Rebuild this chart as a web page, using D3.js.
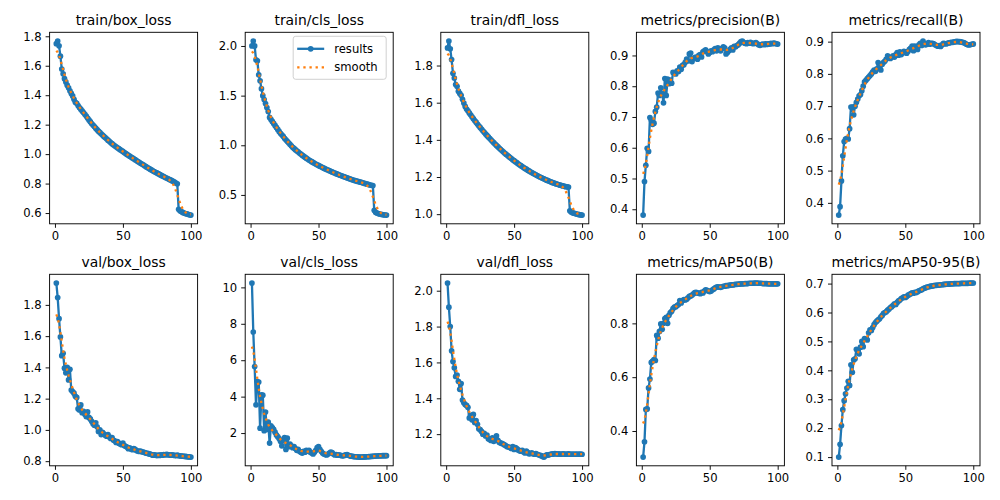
<!DOCTYPE html>
<html>
<head>
<meta charset="utf-8">
<script src="https://cdn.jsdelivr.net/npm/d3@7"></script>
<style>
  body { margin: 0; background: #fff; }
  svg text { font-family: "DejaVu Sans", sans-serif; fill: #000; }
</style>
</head>
<body>
<div id="chart"></div>
<script>
const titles = ['train/box_loss', 'train/cls_loss', 'train/dfl_loss', 'metrics/precision(B)', 'metrics/recall(B)',
  'val/box_loss', 'val/cls_loss', 'val/dfl_loss', 'metrics/mAP50(B)', 'metrics/mAP50-95(B)'];

const epochs = d3.range(1, 101);

const trainBoxLoss = [
  1.750, 1.768, 1.735, 1.665, 1.578, 1.545, 1.512, 1.490, 1.468, 1.450,
  1.430, 1.412, 1.395, 1.372, 1.352, 1.345, 1.330, 1.316, 1.305, 1.293,
  1.282, 1.270, 1.258, 1.245, 1.232, 1.220, 1.208, 1.197, 1.187, 1.176,
  1.166, 1.156, 1.147, 1.138, 1.129, 1.120, 1.112, 1.104, 1.095, 1.087,
  1.079, 1.071, 1.063, 1.056, 1.050, 1.043, 1.037, 1.030, 1.024, 1.018,
  1.011, 1.005, 0.998, 0.992, 0.986, 0.980, 0.974, 0.968, 0.962, 0.956,
  0.950, 0.944, 0.938, 0.933, 0.927, 0.921, 0.915, 0.909, 0.904, 0.898,
  0.893, 0.887, 0.882, 0.877, 0.872, 0.867, 0.862, 0.857, 0.852, 0.848,
  0.843, 0.838, 0.834, 0.829, 0.825, 0.820, 0.815, 0.810, 0.804, 0.798,
  0.625, 0.615, 0.610, 0.604, 0.600, 0.597, 0.594, 0.591, 0.588, 0.586
];

const trainClsLoss = [
  2.000, 2.050, 2.000, 1.860, 1.850, 1.710, 1.650, 1.570, 1.500, 1.460,
  1.420, 1.380, 1.340, 1.280, 1.260, 1.240, 1.220, 1.200, 1.180, 1.160,
  1.140, 1.120, 1.105, 1.090, 1.070, 1.055, 1.040, 1.025, 1.010, 0.995,
  0.980, 0.968, 0.956, 0.945, 0.934, 0.922, 0.911, 0.900, 0.890, 0.880,
  0.870, 0.861, 0.852, 0.843, 0.835, 0.827, 0.819, 0.811, 0.804, 0.797,
  0.790, 0.783, 0.776, 0.769, 0.762, 0.756, 0.750, 0.744, 0.738, 0.732,
  0.726, 0.720, 0.714, 0.709, 0.703, 0.698, 0.692, 0.687, 0.682, 0.677,
  0.672, 0.667, 0.662, 0.657, 0.653, 0.648, 0.644, 0.640, 0.636, 0.632,
  0.628, 0.624, 0.620, 0.616, 0.612, 0.608, 0.604, 0.600, 0.597, 0.594,
  0.345, 0.325, 0.318, 0.312, 0.308, 0.305, 0.302, 0.300, 0.298, 0.297
];

const trainDflLoss = [
  1.895, 1.932, 1.890, 1.832, 1.758, 1.733, 1.698, 1.688, 1.662, 1.650,
  1.640, 1.618, 1.598, 1.580, 1.566, 1.556, 1.545, 1.535, 1.524, 1.514,
  1.504, 1.495, 1.485, 1.476, 1.467, 1.458, 1.449, 1.441, 1.432, 1.424,
  1.416, 1.408, 1.400, 1.392, 1.385, 1.377, 1.370, 1.363, 1.356, 1.349,
  1.342, 1.336, 1.329, 1.323, 1.317, 1.311, 1.305, 1.299, 1.293, 1.288,
  1.282, 1.277, 1.271, 1.266, 1.261, 1.256, 1.251, 1.246, 1.242, 1.237,
  1.233, 1.228, 1.224, 1.220, 1.216, 1.212, 1.208, 1.204, 1.200, 1.197,
  1.193, 1.190, 1.186, 1.183, 1.180, 1.177, 1.174, 1.171, 1.168, 1.166,
  1.163, 1.161, 1.158, 1.156, 1.154, 1.152, 1.150, 1.148, 1.147, 1.146,
  1.018, 1.012, 1.008, 1.005, 1.003, 1.001, 0.999, 0.997, 0.996, 0.995
];

const precision = [
  0.381, 0.490, 0.543, 0.598, 0.588, 0.698, 0.690, 0.676, 0.680, 0.718,
  0.732, 0.778, 0.770, 0.795, 0.775, 0.746, 0.825, 0.770, 0.823, 0.808,
  0.820, 0.810, 0.845, 0.843, 0.840, 0.850, 0.848, 0.862, 0.855, 0.868,
  0.870, 0.878, 0.888, 0.882, 0.905, 0.908, 0.880, 0.890, 0.893, 0.895,
  0.888, 0.900, 0.903, 0.895, 0.912, 0.915, 0.918, 0.912, 0.905, 0.910,
  0.915, 0.912, 0.918, 0.922, 0.915, 0.925, 0.920, 0.915, 0.922, 0.928,
  0.925, 0.905, 0.910, 0.915, 0.920, 0.925, 0.918, 0.930, 0.928, 0.932,
  0.935, 0.940, 0.945, 0.947, 0.942, 0.940, 0.938, 0.942, 0.940, 0.943,
  0.940, 0.938, 0.940, 0.942, 0.938, 0.935, 0.933, 0.935, 0.937, 0.935,
  0.938, 0.936, 0.938, 0.937, 0.939, 0.938, 0.940, 0.939, 0.938, 0.937
];

const recall = [
  0.362, 0.388, 0.468, 0.546, 0.590, 0.598, 0.600, 0.598, 0.630, 0.697,
  0.697, 0.673, 0.700, 0.712, 0.722, 0.732, 0.736, 0.748, 0.762, 0.775,
  0.780, 0.785, 0.790, 0.795, 0.800, 0.806, 0.812, 0.808, 0.816, 0.835,
  0.822, 0.812, 0.830, 0.836, 0.840, 0.846, 0.856, 0.850, 0.848, 0.852,
  0.856, 0.852, 0.860, 0.866, 0.858, 0.868, 0.860, 0.865, 0.870, 0.868,
  0.864, 0.870, 0.876, 0.880, 0.886, 0.872, 0.886, 0.880, 0.876, 0.890,
  0.895, 0.888, 0.902, 0.895, 0.890, 0.893, 0.897, 0.892, 0.895, 0.895,
  0.893, 0.890, 0.888, 0.886, 0.888, 0.885, 0.890, 0.895, 0.894, 0.893,
  0.895, 0.896, 0.897, 0.898, 0.898, 0.899, 0.900, 0.901, 0.900, 0.900,
  0.899, 0.898, 0.897, 0.895, 0.892, 0.890, 0.890, 0.891, 0.892, 0.893
];

const valBoxLoss = [
  1.940, 1.847, 1.712, 1.595, 1.475, 1.490, 1.395, 1.365, 1.400, 1.320,
  1.388, 1.255, 1.245, 1.235, 1.215, 1.208, 1.135, 1.128, 1.160, 1.110,
  1.118, 1.100, 1.085, 1.115, 1.080, 1.070, 1.055, 1.040, 1.030, 1.045,
  1.020, 0.990, 1.000, 0.970, 0.985, 0.975, 0.965, 0.960, 0.970, 0.955,
  0.945, 0.950, 0.935, 0.930, 0.920, 0.925, 0.915, 0.910, 0.905, 0.915,
  0.900, 0.895, 0.890, 0.880, 0.885, 0.878, 0.873, 0.880, 0.875, 0.868,
  0.865, 0.862, 0.865, 0.860, 0.858, 0.855, 0.852, 0.850, 0.848, 0.845,
  0.842, 0.838, 0.840, 0.838, 0.836, 0.838, 0.837, 0.840, 0.838, 0.842,
  0.840, 0.843, 0.842, 0.840, 0.838, 0.840, 0.838, 0.837, 0.836, 0.838,
  0.835, 0.834, 0.833, 0.832, 0.831, 0.830, 0.829, 0.828, 0.827, 0.826
];

const valClsLoss = [
  10.24, 7.55, 5.65, 3.55, 4.82, 4.80, 2.27, 4.10, 4.08, 2.13,
  3.15, 2.20, 2.60, 1.45, 2.40, 2.30, 2.20, 2.05, 1.90, 1.80,
  1.70, 1.55, 1.30, 1.60, 1.75, 1.10, 1.72, 1.25, 1.40, 1.30,
  1.20, 1.25, 1.15, 1.05, 1.10, 1.00, 0.95, 0.90, 1.00, 0.95,
  1.05, 1.00, 1.05, 0.95, 0.90, 0.85, 0.95, 1.05, 1.20, 1.25,
  1.10, 1.00, 0.90, 0.85, 0.82, 0.80, 0.85, 0.90, 0.95, 0.92,
  0.85, 0.80, 0.82, 0.78, 0.80, 0.78, 0.76, 0.75, 0.77, 0.80,
  0.82, 0.78, 0.75, 0.73, 0.72, 0.71, 0.70, 0.70, 0.69, 0.68,
  0.68, 0.68, 0.69, 0.69, 0.70, 0.70, 0.71, 0.71, 0.72, 0.72,
  0.73, 0.74, 0.74, 0.75, 0.75, 0.75, 0.76, 0.76, 0.76, 0.76
];

const valDflLoss = [
  2.043, 1.908, 1.800, 1.665, 1.605, 1.570, 1.522, 1.530, 1.495, 1.450,
  1.482, 1.390, 1.375, 1.365, 1.360, 1.350, 1.290, 1.305, 1.280, 1.310,
  1.265, 1.275, 1.255, 1.230, 1.225, 1.215, 1.200, 1.205, 1.190, 1.195,
  1.175, 1.170, 1.165, 1.180, 1.160, 1.170, 1.190, 1.165, 1.155, 1.150,
  1.148, 1.145, 1.140, 1.135, 1.130, 1.128, 1.125, 1.120, 1.130, 1.115,
  1.125, 1.120, 1.112, 1.108, 1.105, 1.110, 1.100, 1.095, 1.105, 1.098,
  1.090, 1.092, 1.095, 1.090, 1.088, 1.092, 1.088, 1.085, 1.082, 1.080,
  1.075, 1.072, 1.080, 1.085, 1.083, 1.086, 1.088, 1.090, 1.089, 1.091,
  1.090, 1.089, 1.090, 1.088, 1.089, 1.090, 1.089, 1.088, 1.089, 1.090,
  1.089, 1.088, 1.089, 1.088, 1.089, 1.088, 1.089, 1.088, 1.089, 1.088
];

const mAP50 = [
  0.303, 0.360, 0.480, 0.482, 0.560, 0.593, 0.655, 0.660, 0.665, 0.662,
  0.755, 0.745, 0.770, 0.798, 0.778, 0.800, 0.818, 0.822, 0.800, 0.830,
  0.840, 0.845, 0.855, 0.860, 0.862, 0.866, 0.870, 0.885, 0.876, 0.885,
  0.888, 0.887, 0.890, 0.895, 0.900, 0.902, 0.905, 0.910, 0.914, 0.915,
  0.913, 0.912, 0.910, 0.915, 0.913, 0.920, 0.925, 0.923, 0.920, 0.918,
  0.920, 0.925, 0.928, 0.932, 0.935, 0.936, 0.935, 0.934, 0.936, 0.938,
  0.938, 0.940, 0.940, 0.941, 0.942, 0.943, 0.943, 0.944, 0.945, 0.945,
  0.946, 0.946, 0.947, 0.947, 0.947, 0.948, 0.948, 0.948, 0.949, 0.949,
  0.949, 0.949, 0.950, 0.950, 0.950, 0.949, 0.949, 0.949, 0.948, 0.948,
  0.948, 0.948, 0.947, 0.947, 0.947, 0.947, 0.947, 0.947, 0.947, 0.947
];

const mAP5095 = [
  0.100, 0.144, 0.209, 0.264, 0.295, 0.319, 0.339, 0.362, 0.348, 0.419,
  0.393, 0.436, 0.440, 0.473, 0.465, 0.457, 0.480, 0.500, 0.482, 0.510,
  0.508, 0.505, 0.530, 0.540, 0.538, 0.548, 0.558, 0.565, 0.570, 0.575,
  0.578, 0.585, 0.590, 0.597, 0.600, 0.603, 0.608, 0.612, 0.617, 0.620,
  0.625, 0.630, 0.628, 0.635, 0.640, 0.643, 0.648, 0.651, 0.654, 0.652,
  0.655, 0.660, 0.662, 0.665, 0.668, 0.667, 0.670, 0.669, 0.672, 0.675,
  0.677, 0.679, 0.682, 0.684, 0.686, 0.688, 0.689, 0.690, 0.691, 0.692,
  0.693, 0.694, 0.694, 0.695, 0.695, 0.696, 0.696, 0.697, 0.697, 0.698,
  0.698, 0.698, 0.699, 0.699, 0.699, 0.700, 0.700, 0.700, 0.700, 0.700,
  0.701, 0.701, 0.701, 0.701, 0.701, 0.701, 0.702, 0.702, 0.702, 0.702
];

const xTicks = [0, 50, 100];
const yTicks = [
  [0.6, 0.8, 1.0, 1.2, 1.4, 1.6, 1.8],
  [0.5, 1.0, 1.5, 2.0],
  [1.0, 1.2, 1.4, 1.6, 1.8],
  [0.4, 0.5, 0.6, 0.7, 0.8, 0.9],
  [0.4, 0.5, 0.6, 0.7, 0.8, 0.9],
  [0.8, 1.0, 1.2, 1.4, 1.6, 1.8],
  [2, 4, 6, 8, 10],
  [1.2, 1.4, 1.6, 1.8, 2.0],
  [0.4, 0.6, 0.8],
  [0.1, 0.2, 0.3, 0.4, 0.5, 0.6, 0.7]
];

const seriesList = [trainBoxLoss, trainClsLoss, trainDflLoss, precision, recall,
  valBoxLoss, valClsLoss, valDflLoss, mAP50, mAP5095];

// same as scipy gaussian_filter1d(y, sigma=3), mode 'reflect'
function gaussianSmooth(values, sigma) {
  const radius = Math.round(4 * sigma);
  const weights = d3.range(-radius, radius + 1).map(k => Math.exp(-0.5 * k * k / (sigma * sigma)));
  const total = d3.sum(weights);
  const n = values.length;
  return values.map((v, i) => {
    let acc = 0;
    for (let k = -radius; k <= radius; k++) {
      let j = i + k;
      if (j < 0) j = -j - 1;
      if (j >= n) j = 2 * n - j - 1;
      acc += values[j] * weights[k + radius];
    }
    return acc / total;
  });
}

const width = 1000;
const height = 500;
const colLefts = [49.6, 245.2, 440.8, 636.4, 832.0];
const rowTops = [32.3, 274.3];
const plotWidth = 148;
const plotHeight = 191.5;
const blue = '#1f77b4';
const orange = '#ff7f0e';

const svg = d3.select('#chart').append('svg')
  .attr('width', width)
  .attr('height', height);

svg.append('rect')
  .attr('width', width)
  .attr('height', height)
  .attr('fill', '#fff');

seriesList.forEach((values, i) => {
  const left = colLefts[i % 5];
  const top = rowTops[Math.floor(i / 5)];

  const plotGroup = svg.append('g')
    .attr('transform', `translate(${left},${top})`);

  const xScale = d3.scaleLinear()
    .domain([1 - 4.95, 100 + 4.95])
    .range([0, plotWidth]);

  const [lo, hi] = d3.extent(values);
  const pad = (hi - lo) * 0.05;
  const yScale = d3.scaleLinear()
    .domain([lo - pad, hi + pad])
    .range([plotHeight, 0]);

  const fmt = i === 6 ? d3.format('d') : d3.format('.1f');

  const xAxis = d3.axisBottom(xScale)
    .tickValues(xTicks)
    .tickSize(4)
    .tickPadding(4);
  plotGroup.append('g')
    .attr('transform', `translate(0,${plotHeight})`)
    .call(xAxis)
    .call(g => g.select('.domain').remove());

  const yAxis = d3.axisLeft(yScale)
    .tickValues(yTicks[i])
    .tickFormat(fmt)
    .tickSize(4)
    .tickPadding(4);
  plotGroup.append('g')
    .call(yAxis)
    .call(g => g.select('.domain').remove());

  plotGroup.selectAll('.tick line')
    .attr('stroke', '#000')
    .attr('stroke-width', 0.93);
  plotGroup.selectAll('.tick text')
    .attr('font-size', '11.6px')
    .attr('font-family', '"DejaVu Sans", sans-serif');

  const clip = plotGroup.append('clipPath')
    .attr('id', `clip${i}`)
    .append('rect')
    .attr('width', plotWidth)
    .attr('height', plotHeight);

  const points = epochs.map((e, k) => ({epoch: e, value: values[k]}));
  const smooth = gaussianSmooth(values, 3);
  const smoothPoints = epochs.map((e, k) => ({epoch: e, value: smooth[k]}));

  const line = d3.line()
    .x(d => xScale(d.epoch))
    .y(d => yScale(d.value));

  const dataGroup = plotGroup.append('g')
    .attr('clip-path', `url(#clip${i})`);

  dataGroup.append('path')
    .datum(points)
    .attr('fill', 'none')
    .attr('stroke', blue)
    .attr('stroke-width', 2.31)
    .attr('stroke-linejoin', 'round')
    .attr('d', line);

  dataGroup.selectAll('circle')
    .data(points)
    .enter()
    .append('circle')
    .attr('cx', d => xScale(d.epoch))
    .attr('cy', d => yScale(d.value))
    .attr('r', 2.85)
    .attr('fill', blue);

  dataGroup.append('path')
    .datum(smoothPoints)
    .attr('fill', 'none')
    .attr('stroke', orange)
    .attr('stroke-width', 2.31)
    .attr('stroke-dasharray', '2.31,3.81')
    .attr('d', line);

  plotGroup.append('rect')
    .attr('width', plotWidth)
    .attr('height', plotHeight)
    .attr('fill', 'none')
    .attr('stroke', '#000')
    .attr('stroke-width', 0.93);

  plotGroup.append('text')
    .attr('x', plotWidth / 2)
    .attr('y', -7)
    .attr('text-anchor', 'middle')
    .attr('font-size', '13.9px')
    .text(titles[i]);

  if (i === 1) {
    // legend, upper right of the train/cls_loss panel
    const legend = plotGroup.append('g')
      .attr('transform', `translate(${plotWidth - 100},4)`);
    legend.append('rect')
      .attr('width', 93)
      .attr('height', 43)
      .attr('rx', 2.5)
      .attr('fill', '#fff')
      .attr('fill-opacity', 0.8)
      .attr('stroke', '#ccc')
      .attr('stroke-width', 0.93);
    legend.append('line')
      .attr('x1', 4).attr('x2', 31)
      .attr('y1', 12.5).attr('y2', 12.5)
      .attr('stroke', blue)
      .attr('stroke-width', 2.31);
    legend.append('circle')
      .attr('cx', 17.5).attr('cy', 12.5)
      .attr('r', 2.85)
      .attr('fill', blue);
    legend.append('line')
      .attr('x1', 4).attr('x2', 31)
      .attr('y1', 31).attr('y2', 31)
      .attr('stroke', orange)
      .attr('stroke-width', 2.31)
      .attr('stroke-dasharray', '2.31,3.81');
    legend.append('text')
      .attr('x', 41).attr('y', 16.7)
      .attr('font-size', '11.6px')
      .text('results');
    legend.append('text')
      .attr('x', 41).attr('y', 35.2)
      .attr('font-size', '11.6px')
      .text('smooth');
  }
});
</script>
</body>
</html>
